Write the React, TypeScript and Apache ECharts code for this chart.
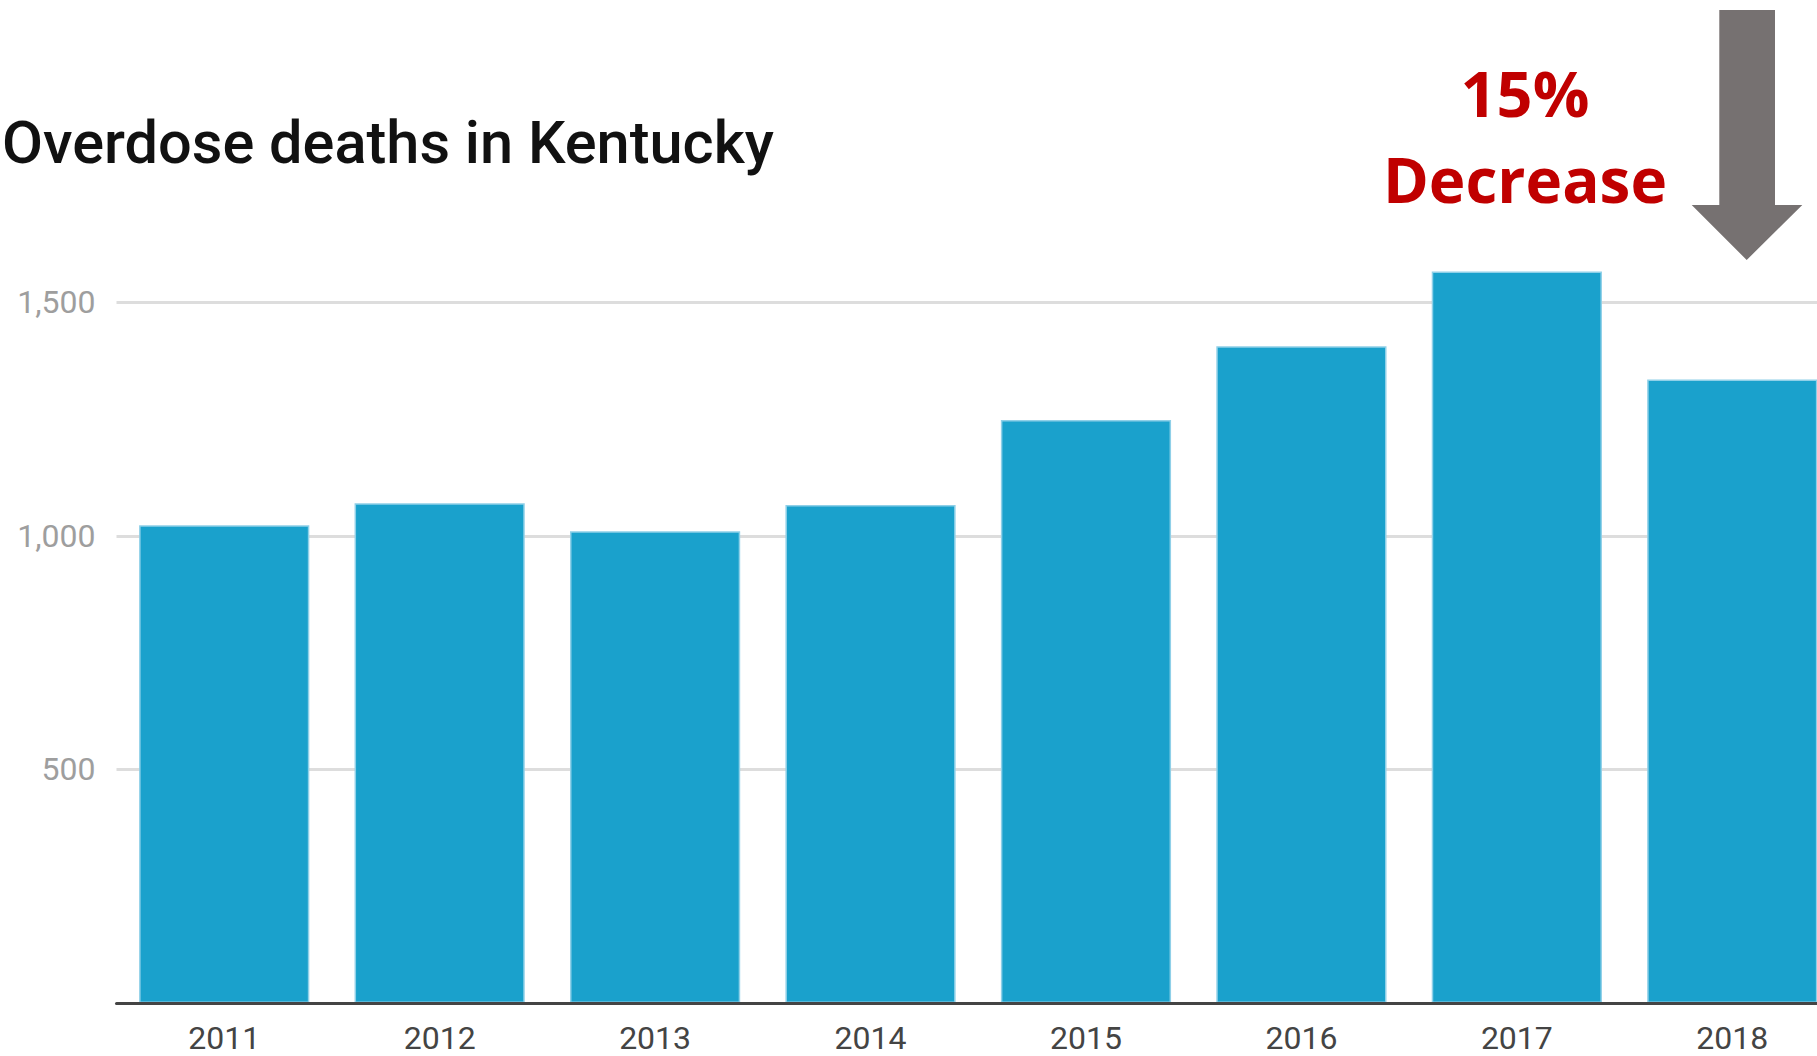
import { useEffect, useRef } from 'react';
import * as echarts from 'echarts';

const years = ['2011', '2012', '2013', '2014', '2015', '2016', '2017', '2018'];
const deaths = [1023, 1070, 1010, 1066, 1248, 1406, 1566, 1335];
const yTickValues = [500, 1000, 1500];
const chartTitle = 'Overdose deaths in Kentucky';
const noteLines = ['15%', 'Decrease'];

export default function App() {
  const ref = useRef<HTMLDivElement>(null);
  useEffect(() => {
    document.body.style.margin = '0';
    const chart = echarts.init(ref.current!, null, { renderer: 'svg' });
    chart.setOption({
      animation: false,
      backgroundColor: '#ffffff',
      grid: { left: 116.5, right: 0, top: 209, bottom: 53, containLabel: false },
      xAxis: {
        type: 'category',
        data: years,
        z: 3,
        axisLine: { show: true, lineStyle: { color: '#444444', width: 3 } },
        axisTick: { show: false },
        axisLabel: { color: '#444444', fontFamily: 'Roboto', fontSize: 32, lineHeight: 28, margin: 21 },
      },
      yAxis: {
        type: 'value',
        min: 0,
        max: 1700,
        interval: 500,
        axisLine: { show: false },
        axisTick: { show: false },
        axisLabel: {
          color: '#9e9e9e',
          fontFamily: 'Roboto',
          fontSize: 32,
          margin: 21,
          formatter: (v: number) => (yTickValues.includes(v) ? v.toLocaleString('en-US') : ''),
        },
        splitLine: { show: true, showMaxLine: false, lineStyle: { color: '#dddddd', width: 3 } },
      },
      series: [
        {
          type: 'bar',
          data: deaths,
          barCategoryGap: '21%',
          itemStyle: { color: '#1aa1cc', borderColor: '#8fd0e8', borderWidth: 1.5 },
        },
      ],
      graphic: [
        {
          type: 'text',
          x: 2,
          y: 143,
          style: {
            text: chartTitle,
            fontFamily: 'Roboto',
            fontWeight: 500,
            fontSize: 59.5,
            fill: '#111111',
            align: 'left',
            verticalAlign: 'middle',
          },
        },
        {
          type: 'text',
          x: 1525,
          y: 92,
          style: {
            text: noteLines[0],
            fontFamily: 'Open Sans',
            fontWeight: 700,
            fontSize: 63,
            fill: '#c00000',
            align: 'center',
            verticalAlign: 'middle',
          },
        },
        {
          type: 'text',
          x: 1525,
          y: 179,
          style: {
            text: noteLines[1],
            fontFamily: 'Open Sans',
            fontWeight: 700,
            fontSize: 62,
            fill: '#c00000',
            align: 'center',
            verticalAlign: 'middle',
          },
        },
        {
          type: 'polygon',
          shape: {
            points: [
              [1719.3, 10],
              [1775, 10],
              [1775, 205],
              [1802.3, 205],
              [1746.7, 260],
              [1691.7, 205],
              [1719.3, 205],
            ],
          },
          style: { fill: '#767171' },
        },
      ],
    });
    return () => chart.dispose();
  }, []);
  return (
    <div style={{ width: 1817, height: 1056, overflow: 'hidden', position: 'relative' }}>
      <div ref={ref} style={{ width: 1840, height: 1056 }} />
    </div>
  );
}
